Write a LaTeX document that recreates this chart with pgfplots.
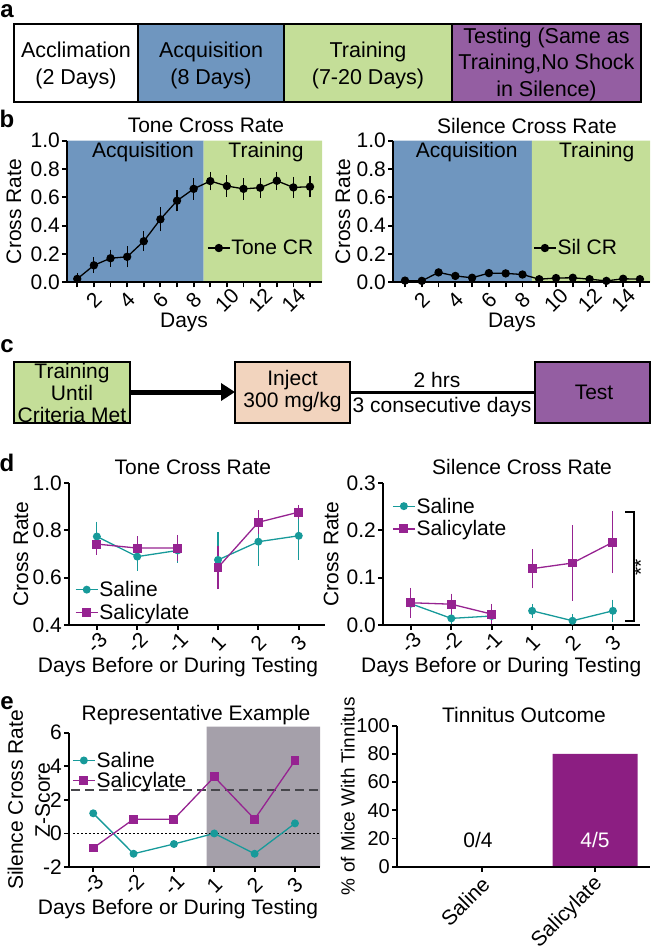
\documentclass[border=0pt]{standalone}
\usepackage{fontspec}
\setmainfont{Liberation Sans}
\usepackage{pgfplots}
\pgfplotsset{compat=1.18}
\usetikzlibrary{arrows.meta}

\definecolor{acq}{RGB}{111,150,191}
\definecolor{trn}{RGB}{196,222,152}
\definecolor{tst}{RGB}{148,94,162}
\definecolor{inj}{RGB}{242,212,190}
\definecolor{sal}{RGB}{23,154,154}
\definecolor{scy}{RGB}{150,35,145}
\definecolor{barc}{RGB}{140,30,130}
\definecolor{shade}{RGB}{165,160,170}

\newcommand\fs{\fontsize{21}{25}\selectfont}

\pgfplotsset{
  panel/.style={
    scale only axis, anchor=south west,
    axis lines*=left, axis line style={line width=1.8pt,-},
    tick align=outside, major tick length=5pt,
    every tick/.style={line width=1.8pt, black},
    /pgf/number format/assume math mode=true,
    tick label style={font=\fs},
    yticklabel style={inner xsep=2pt},
    label style={font=\fs},
    title style={font=\fs, anchor=center, yshift=0pt},
    axis on top,
    clip=false,
    legend style={draw=none, fill=none, font=\fs, inner sep=0pt,
      nodes={inner sep=1pt}, legend cell align=left},
    legend image code/.code={\draw[mark repeat=2, mark phase=2]
      plot coordinates {(0pt,0pt) (11pt,0pt) (22pt,0pt)};},
  },
  rotx/.style={xticklabel style={yshift=-13pt, rotate=45, anchor=center}},
  onedec/.style={yticklabel style={/pgf/number format/.cd, fixed, fixed zerofill, precision=1}},
  ebars/.style={error bars/.cd, y dir=both, y explicit,
    error bar style={line width=1.1pt},
    error mark options={mark size=5pt, line width=1.1pt}},
  salst/.style={sal, line width=1.3pt, mark=*, mark size=3.3pt, mark options={fill=sal}},
  scyst/.style={scy, line width=1.3pt, mark=square*, mark size=3.8pt, mark options={fill=scy}},
}

\begin{document}
\begin{tikzpicture}[font=\fs]
\useasboundingbox (0,0) rectangle (652pt,-947pt);

\begin{scope}[x=1pt,y=-1pt]
% ---- panel a
\node[font=\fontsize{24}{24}\selectfont\bfseries, inner sep=0pt] at (7,11) {a};
\fill[acq] (138,24) rectangle (284,102);
\fill[trn] (284,24) rectangle (452,102);
\fill[tst] (452,24) rectangle (641,102);
\draw[line width=2.5pt] (14,24) rectangle (641,102);
\draw[line width=2.5pt] (138,24) -- (138,102) (284,24) -- (284,102) (452,24) -- (452,102);
\node[align=center, font=\fontsize{21.5}{26.5}\selectfont] at (76,65.5) {Acclimation\\(2 Days)};
\node[align=center, font=\fontsize{21.5}{26.5}\selectfont] at (211,65.5) {Acquisition\\(8 Days)};
\node[align=center, font=\fontsize{21.5}{26.5}\selectfont] at (368,65.5) {Training\\(7-20 Days)};
\node[align=center, font=\fontsize{21.5}{26.5}\selectfont] at (546.5,64) {Testing (Same as\\Training,No Shock\\in Silence)};

% ---- panel labels
\node[font=\fontsize{24}{24}\selectfont\bfseries] at (7,119) {b};
\node[font=\fontsize{24}{24}\selectfont\bfseries] at (7,346) {c};
\node[font=\fontsize{24}{24}\selectfont\bfseries] at (7,463) {d};
\node[font=\fontsize{24}{24}\selectfont\bfseries] at (7,703) {e};

% ---- panel c
\draw[line width=5pt, -{Triangle[length=14pt, width=17pt]}] (130,392) -- (235,392);
\draw[line width=3pt] (350,392) -- (535,392);
\fill[trn] (14,362) rectangle (130,423);
\draw[line width=2.5pt] (14,362) rectangle (130,423);
\fill[inj] (235,362) rectangle (350,423);
\draw[line width=2.5pt] (235,362) rectangle (350,423);
\fill[tst] (535,362) rectangle (650,423);
\draw[line width=2.5pt] (535,362) rectangle (650,423);
\node[align=center, font=\fontsize{21}{22}\selectfont] at (72,393) {Training\\Until\\Criteria Met};
\node[align=center, font=\fontsize{21}{22}\selectfont] at (292.5,391.5) {Inject\\300 mg/kg};
\node at (594,392) {Test};
\node at (437,380) {2 hrs};
\node at (442,407) {3 consecutive days};

% ---- panel d bracket
\draw[line width=1.8pt] (625,512) -- (634,512) -- (634,621) -- (625,621);
\node[rotate=90, inner sep=0pt] at (641,567) {**};
\end{scope}

% ---- panel b left
\begin{axis}[panel, rotx, onedec, at={(67pt,-282.3pt)}, width=255pt, height=141.6pt,
  xmin=0.383, xmax=15.72, ymin=0, ymax=1,
  xtick={1,...,15}, xticklabels={{},2,{},4,{},6,{},8,{},10,{},12,{},14,{}},
  ytick={0,0.2,...,1.0},
  title={Tone Cross Rate}, title style={at={(axis description cs:0.545,1.065)}},
  xlabel={Days}, xlabel style={at={(axis description cs:0.459,-0.285)}, anchor=center},
  ylabel={Cross Rate}, ylabel style={at={(axis description cs:-0.208,0.5)}, anchor=center},
  legend style={at={(0.549,0.242)}, anchor=west}]
\addplot[fill=acq, draw=none, forget plot] coordinates {(0.383,0) (8.6,0) (8.6,1) (0.383,1) (0.383,0)};
\addplot[fill=trn, draw=none, forget plot] coordinates {(8.6,0) (15.72,0) (15.72,1) (8.6,1) (8.6,0)};
\addplot[black, line width=1.3pt, mark=*, mark size=3.5pt, ebars] table[x=d, y=m, y error=e] {
d m e
1 0.024 0.005
2 0.12 0.02
3 0.17 0.025
4 0.18 0.04
5 0.29 0.035
6 0.445 0.05
7 0.576 0.04
8 0.66 0.04
9 0.715 0.03
10 0.68 0.04
11 0.66 0.04
12 0.668 0.035
13 0.717 0.03
14 0.67 0.04
15 0.675 0.04
};
\legend{Tone CR}
\end{axis}

% ---- panel b right
\begin{axis}[panel, rotx, onedec, at={(393pt,-282.3pt)}, width=257pt, height=141.6pt,
  xmin=0.285, xmax=15.6, ymin=0, ymax=1,
  xtick={1,...,15}, xticklabels={{},2,{},4,{},6,{},8,{},10,{},12,{},14,{}},
  ytick={0,0.2,...,1.0},
  title={Silence Cross Rate}, title style={at={(axis description cs:0.521,1.065)}},
  xlabel={Days}, xlabel style={at={(axis description cs:0.463,-0.285)}, anchor=center},
  ylabel={Cross Rate}, ylabel style={at={(axis description cs:-0.195,0.5)}, anchor=center},
  legend style={at={(0.545,0.242)}, anchor=west}]
\addplot[fill=acq, draw=none, forget plot] coordinates {(0.285,0) (8.56,0) (8.56,1) (0.285,1) (0.285,0)};
\addplot[fill=trn, draw=none, forget plot] coordinates {(8.56,0) (15.6,0) (15.6,1) (8.56,1) (8.56,0)};
\addplot[black, line width=1.3pt, mark=*, mark size=3.5pt] table[x=d, y=m] {
d m
1 0.012
2 0.01
3 0.07
4 0.045
5 0.032
6 0.065
7 0.063
8 0.055
9 0.022
10 0.03
11 0.032
12 0.022
13 0.01
14 0.025
15 0.022
};
\legend{Sil CR}
\end{axis}

% ---- panel d left
\begin{axis}[panel, rotx, onedec, at={(69pt,-625pt)}, width=256pt, height=142pt,
  xmin=-0.69, xmax=5.65, ymin=0.4, ymax=1.0,
  xtick={0,...,5}, xticklabels={-3,-2,-1,1,2,3},
  ytick={0.4,0.6,0.8,1.0},
  title={Tone Cross Rate}, title style={at={(axis description cs:0.484,1.072)}},
  xlabel={Days Before or During Testing}, xlabel style={at={(axis description cs:0.426,-0.295)}, anchor=center},
  ylabel={Cross Rate}, ylabel style={at={(axis description cs:-0.1875,0.5)}, anchor=center},
  legend style={at={(0.023,0.169)}, anchor=west, row sep=4pt}]
\addplot[salst, ebars] table[x=x, y=y, y error=e] {
x y e
0 0.774 0.042
1 0.689 0.038
2 0.715 0.03
};
\addplot[salst, forget plot, ebars] table[x=x, y=y, y error=e] {
x y e
3 0.675 0.097
4 0.752 0.081
5 0.777 0.081
};
\addplot[scyst, ebars] table[x=x, y=y, y error=e] {
x y e
0 0.742 0.025
1 0.725 0.028
2 0.725 0.035
};
\addplot[scyst, forget plot, ebars] table[x=x, y=y, y error=e] {
x y e
3 0.643 0.07
4 0.834 0.03
5 0.877 0.01
};
\legend{Saline, Salicylate}
\end{axis}

% ---- panel d right
\begin{axis}[panel, rotx, onedec, at={(383pt,-625pt)}, width=257pt, height=142pt,
  xmin=-0.69, xmax=5.67, ymin=0, ymax=0.3,
  xtick={0,...,5}, xticklabels={-3,-2,-1,1,2,3},
  ytick={0,0.1,0.2,0.3},
  title={Silence Cross Rate}, title style={at={(axis description cs:0.541,1.072)}},
  xlabel={Days Before or During Testing}, xlabel style={at={(axis description cs:0.46,-0.295)}, anchor=center},
  ylabel={Cross Rate}, ylabel style={at={(axis description cs:-0.202,0.5)}, anchor=center},
  legend style={at={(0.035,0.757)}, anchor=west, row sep=4pt}]
\addplot[salst, ebars] table[x=x, y=y, y error=e] {
x y e
0 0.045 0.015
1 0.014 0.004
2 0.019 0.008
};
\addplot[salst, forget plot, ebars] table[x=x, y=y, y error=e] {
x y e
3 0.03 0.004
4 0.009 0.004
5 0.03 0.013
};
\addplot[scyst, ebars] table[x=x, y=y, y error=e] {
x y e
0 0.047 0.021
1 0.044 0.012
2 0.023 0.011
};
\addplot[scyst, forget plot, ebars] table[x=x, y=y, y error=e] {
x y e
3 0.119 0.031
4 0.131 0.069
5 0.175 0.055
};
\legend{Saline, Salicylate}
\end{axis}

% ---- panel e left
\begin{axis}[panel, rotx, at={(69pt,-867pt)}, width=251pt, height=134.3pt,
  xmin=-0.6, xmax=5.62, ymin=-2, ymax=6,
  xtick={0,...,5}, xticklabels={-3,-2,-1,1,2,3},
  ytick={-2,0,2,4,6},
  title={Representative Example}, title style={at={(axis description cs:0.506,1.09)}},
  xlabel={Days Before or During Testing}, xlabel style={at={(axis description cs:0.434,-0.31)}, anchor=center},
  ylabel={Silence Cross Rate\\Z-Score}, ylabel style={at={(axis description cs:-0.16,0.5)}, anchor=center, align=center, font=\fontsize{21}{27}\selectfont},
  legend style={at={(0.012,0.72)}, anchor=west, row sep=1pt}]
\addplot[fill=shade, draw=none, forget plot] coordinates {(2.81,-2) (5.62,-2) (5.62,6.36) (2.81,6.36) (2.81,-2)};
\addplot[color={rgb,255:red,70;green,70;blue,75}, line width=1.6pt, dash pattern=on 9pt off 5pt, forget plot] coordinates {(-0.55,2.57) (5.62,2.57)};
\addplot[black, line width=1pt, dash pattern=on 1.5pt off 2.5pt, forget plot] coordinates {(-0.6,0) (5.62,0)};
\addplot[salst] table[x=x, y=y] {
x y
0 1.2
1 -1.21
2 -0.63
3 0
4 -1.21
5 0.6
};
\addplot[scyst] table[x=x, y=y] {
x y
0 -0.87
1 0.85
2 0.85
3 3.37
4 0.85
5 4.34
};
\legend{Saline, Salicylate}
\end{axis}

% ---- panel e right
\begin{axis}[panel, at={(397pt,-866.7pt)}, width=253pt, height=141pt,
  xmin=-0.75, xmax=1.485, ymin=0, ymax=100,
  xtick={0,1}, xticklabels={Saline, Salicylate},
  xticklabel style={xshift=4pt, yshift=-9pt, rotate=45, anchor=east, inner sep=0pt},
  ytick={0,20,...,100},
  yticklabel style={font=\fontsize{20}{24}\selectfont},
  title={Tinnitus Outcome}, title style={at={(axis description cs:0.502,1.035)}},
  ylabel={\% of Mice With Tinnitus}, ylabel style={at={(axis description cs:-0.194,0.5)}, anchor=center, font=\fontsize{19}{23}\selectfont}]
\addplot[ybar, bar width=85pt, fill=barc, draw=none] coordinates {(0,0) (1,80)};
\end{axis}

\begin{scope}[x=1pt,y=-1pt]
\node at (143,152) {Acquisition};
\node at (266,152) {Training};
\node at (466.7,152) {Acquisition};
\node at (596.7,152) {Training};
\node at (478,840) {0/4};
\node[white] at (595,840) {4/5};
\end{scope}

\end{tikzpicture}
\end{document}
